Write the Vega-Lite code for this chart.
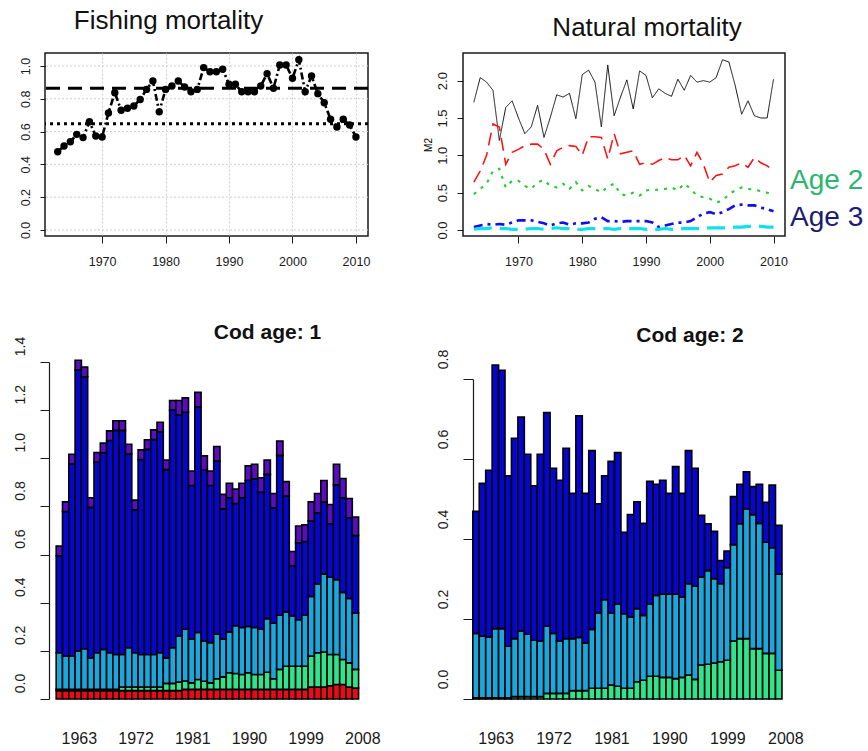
{
  "$schema": "https://vega.github.io/schema/vega-lite/v6.json",
  "background": "white",
  "padding": {"left": 13, "top": 7, "right": 0, "bottom": 0},
  "bounds": "flush",
  "spacing": 309,
  "resolve": {"scale": {"color": "independent", "x": "independent", "y": "independent"}},
  "config": {
    "view": {"stroke": null},
    "font": "Liberation Sans",
    "axis": {"labelFont": "Liberation Sans", "titleFont": "Liberation Sans", "labelColor": "#1a1a1a", "domainColor": "#1a1a1a", "tickColor": "#1a1a1a", "labelOverlap": false, "labelFlush": false, "grid": false},
    "title": {"font": "Liberation Sans", "color": "#111111"}
  },
  "datasets": {
    "fmort": [
      {"year":1963,"F":0.477},{"year":1964,"F":0.512},{"year":1965,"F":0.538},{"year":1966,"F":0.583},{"year":1967,"F":0.563},{"year":1968,"F":0.66},{"year":1969,"F":0.573},{"year":1970,"F":0.567},{"year":1971,"F":0.713},{"year":1972,"F":0.837},{"year":1973,"F":0.73},{"year":1974,"F":0.742},{"year":1975,"F":0.756},{"year":1976,"F":0.795},{"year":1977,"F":0.857},{"year":1978,"F":0.908},{"year":1979,"F":0.72},{"year":1980,"F":0.857},{"year":1981,"F":0.878},{"year":1982,"F":0.908},{"year":1983,"F":0.872},{"year":1984,"F":0.843},{"year":1985,"F":0.857},{"year":1986,"F":0.99},{"year":1987,"F":0.965},{"year":1988,"F":0.965},{"year":1989,"F":0.98},{"year":1990,"F":0.888},{"year":1991,"F":0.888},{"year":1992,"F":0.843},{"year":1993,"F":0.843},{"year":1994,"F":0.843},{"year":1995,"F":0.878},{"year":1996,"F":0.953},{"year":1997,"F":0.864},{"year":1998,"F":1.006},{"year":1999,"F":1.006},{"year":2000,"F":0.925},{"year":2001,"F":1.038},{"year":2002,"F":0.843},{"year":2003,"F":0.939},{"year":2004,"F":0.831},{"year":2005,"F":0.776},{"year":2006,"F":0.675},{"year":2007,"F":0.628},{"year":2008,"F":0.675},{"year":2009,"F":0.64},{"year":2010,"F":0.567}
    ],
    "nm": [
      {"year":1963,"Age 0":1.71,"Age 1":0.64,"Age 2":0.48,"Age 3":0.04,"Age 4":0.01},
      {"year":1964,"Age 0":2.04,"Age 1":0.79,"Age 2":0.55,"Age 3":0.06,"Age 4":0.02},
      {"year":1965,"Age 0":1.98,"Age 1":1.0,"Age 2":0.62,"Age 3":0.08,"Age 4":0.02},
      {"year":1966,"Age 0":1.87,"Age 1":1.42,"Age 2":0.79,"Age 3":0.07,"Age 4":0.03},
      {"year":1967,"Age 0":1.2,"Age 1":1.38,"Age 2":0.82,"Age 3":0.08,"Age 4":0.02},
      {"year":1968,"Age 0":1.64,"Age 1":0.88,"Age 2":0.57,"Age 3":0.07,"Age 4":0.02},
      {"year":1969,"Age 0":1.73,"Age 1":1.04,"Age 2":0.66,"Age 3":0.1,"Age 4":0.01},
      {"year":1970,"Age 0":1.5,"Age 1":1.08,"Age 2":0.66,"Age 3":0.13,"Age 4":0.01},
      {"year":1971,"Age 0":1.29,"Age 1":1.13,"Age 2":0.59,"Age 3":0.13,"Age 4":0.01},
      {"year":1972,"Age 0":1.38,"Age 1":1.15,"Age 2":0.55,"Age 3":0.13,"Age 4":0.02},
      {"year":1973,"Age 0":1.67,"Age 1":1.15,"Age 2":0.64,"Age 3":0.11,"Age 4":0.02},
      {"year":1974,"Age 0":1.24,"Age 1":1.08,"Age 2":0.67,"Age 3":0.09,"Age 4":0.01},
      {"year":1975,"Age 0":1.51,"Age 1":0.88,"Age 2":0.59,"Age 3":0.06,"Age 4":0.02},
      {"year":1976,"Age 0":1.81,"Age 1":1.06,"Age 2":0.57,"Age 3":0.09,"Age 4":0.03},
      {"year":1977,"Age 0":1.78,"Age 1":1.11,"Age 2":0.62,"Age 3":0.1,"Age 4":0.02},
      {"year":1978,"Age 0":1.83,"Age 1":1.13,"Age 2":0.55,"Age 3":0.07,"Age 4":0.02},
      {"year":1979,"Age 0":1.49,"Age 1":1.12,"Age 2":0.64,"Age 3":0.09,"Age 4":0.01},
      {"year":1980,"Age 0":2.08,"Age 1":1.0,"Age 2":0.53,"Age 3":0.09,"Age 4":0.01},
      {"year":1981,"Age 0":2.14,"Age 1":1.25,"Age 2":0.59,"Age 3":0.1,"Age 4":0.02},
      {"year":1982,"Age 0":1.98,"Age 1":1.25,"Age 2":0.55,"Age 3":0.15,"Age 4":0.02},
      {"year":1983,"Age 0":1.38,"Age 1":1.24,"Age 2":0.5,"Age 3":0.17,"Age 4":0.02},
      {"year":1984,"Age 0":2.21,"Age 1":0.95,"Age 2":0.58,"Age 3":0.12,"Age 4":0.02},
      {"year":1985,"Age 0":1.53,"Age 1":1.29,"Age 2":0.62,"Age 3":0.12,"Age 4":0.01},
      {"year":1986,"Age 0":1.78,"Age 1":1.02,"Age 2":0.48,"Age 3":0.11,"Age 4":0.02},
      {"year":1987,"Age 0":2.01,"Age 1":1.04,"Age 2":0.46,"Age 3":0.12,"Age 4":0.02},
      {"year":1988,"Age 0":1.62,"Age 1":1.06,"Age 2":0.5,"Age 3":0.12,"Age 4":0.02},
      {"year":1989,"Age 0":2.13,"Age 1":0.88,"Age 2":0.46,"Age 3":0.12,"Age 4":0.02},
      {"year":1990,"Age 0":2.07,"Age 1":0.9,"Age 2":0.53,"Age 3":0.12,"Age 4":0.01},
      {"year":1991,"Age 0":1.77,"Age 1":0.88,"Age 2":0.54,"Age 3":0.1,"Age 4":0.01},
      {"year":1992,"Age 0":1.89,"Age 1":0.93,"Age 2":0.54,"Age 3":0.04,"Age 4":0.01},
      {"year":1993,"Age 0":1.83,"Age 1":0.97,"Age 2":0.55,"Age 3":0.06,"Age 4":0.02},
      {"year":1994,"Age 0":1.79,"Age 1":0.94,"Age 2":0.57,"Age 3":0.08,"Age 4":0.01},
      {"year":1995,"Age 0":2.02,"Age 1":0.94,"Age 2":0.53,"Age 3":0.1,"Age 4":0.01},
      {"year":1996,"Age 0":1.87,"Age 1":1.0,"Age 2":0.62,"Age 3":0.1,"Age 4":0.02},
      {"year":1997,"Age 0":2.07,"Age 1":0.86,"Age 2":0.55,"Age 3":0.12,"Age 4":0.02},
      {"year":1998,"Age 0":1.98,"Age 1":1.04,"Age 2":0.46,"Age 3":0.17,"Age 4":0.02},
      {"year":1999,"Age 0":2.0,"Age 1":0.88,"Age 2":0.44,"Age 3":0.22,"Age 4":0.02},
      {"year":2000,"Age 0":1.98,"Age 1":0.64,"Age 2":0.42,"Age 3":0.24,"Age 4":0.03},
      {"year":2001,"Age 0":2.04,"Age 1":0.73,"Age 2":0.37,"Age 3":0.21,"Age 4":0.03},
      {"year":2002,"Age 0":2.28,"Age 1":0.75,"Age 2":0.39,"Age 3":0.24,"Age 4":0.03},
      {"year":2003,"Age 0":2.25,"Age 1":0.84,"Age 2":0.48,"Age 3":0.28,"Age 4":0.03},
      {"year":2004,"Age 0":1.93,"Age 1":0.86,"Age 2":0.53,"Age 3":0.33,"Age 4":0.04},
      {"year":2005,"Age 0":1.55,"Age 1":0.9,"Age 2":0.57,"Age 3":0.34,"Age 4":0.04},
      {"year":2006,"Age 0":1.73,"Age 1":0.84,"Age 2":0.55,"Age 3":0.33,"Age 4":0.05},
      {"year":2007,"Age 0":1.53,"Age 1":0.97,"Age 2":0.54,"Age 3":0.33,"Age 4":0.05},
      {"year":2008,"Age 0":1.5,"Age 1":0.9,"Age 2":0.52,"Age 3":0.3,"Age 4":0.05},
      {"year":2009,"Age 0":1.5,"Age 1":0.86,"Age 2":0.5,"Age 3":0.28,"Age 4":0.04},
      {"year":2010,"Age 0":2.02,"Age 1":0.79,"Age 2":0.48,"Age 3":0.25,"Age 4":0.04}
    ],
    "age1": [
      {"year":1963,"Predator 1":0.035,"Predator 2":0.005,"Predator 3":0.152,"Predator 4":0.403,"Predator 5":0.04},
      {"year":1964,"Predator 1":0.035,"Predator 2":0.005,"Predator 3":0.138,"Predator 4":0.601,"Predator 5":0.04},
      {"year":1965,"Predator 1":0.035,"Predator 2":0.005,"Predator 3":0.138,"Predator 4":0.799,"Predator 5":0.04},
      {"year":1966,"Predator 1":0.035,"Predator 2":0.005,"Predator 3":0.159,"Predator 4":1.168,"Predator 5":0.04},
      {"year":1967,"Predator 1":0.035,"Predator 2":0.005,"Predator 3":0.169,"Predator 4":1.13,"Predator 5":0.04},
      {"year":1968,"Predator 1":0.035,"Predator 2":0.005,"Predator 3":0.131,"Predator 4":0.625,"Predator 5":0.04},
      {"year":1969,"Predator 1":0.035,"Predator 2":0.005,"Predator 3":0.152,"Predator 4":0.792,"Predator 5":0.04},
      {"year":1970,"Predator 1":0.035,"Predator 2":0.005,"Predator 3":0.166,"Predator 4":0.817,"Predator 5":0.04},
      {"year":1971,"Predator 1":0.035,"Predator 2":0.005,"Predator 3":0.152,"Predator 4":0.882,"Predator 5":0.04},
      {"year":1972,"Predator 1":0.035,"Predator 2":0.005,"Predator 3":0.145,"Predator 4":0.931,"Predator 5":0.04},
      {"year":1973,"Predator 1":0.035,"Predator 2":0.015,"Predator 3":0.135,"Predator 4":0.931,"Predator 5":0.04},
      {"year":1974,"Predator 1":0.035,"Predator 2":0.015,"Predator 3":0.163,"Predator 4":0.805,"Predator 5":0.04},
      {"year":1975,"Predator 1":0.035,"Predator 2":0.015,"Predator 3":0.142,"Predator 4":0.594,"Predator 5":0.04},
      {"year":1976,"Predator 1":0.035,"Predator 2":0.015,"Predator 3":0.135,"Predator 4":0.81,"Predator 5":0.04},
      {"year":1977,"Predator 1":0.035,"Predator 2":0.015,"Predator 3":0.135,"Predator 4":0.852,"Predator 5":0.04},
      {"year":1978,"Predator 1":0.035,"Predator 2":0.015,"Predator 3":0.135,"Predator 4":0.893,"Predator 5":0.04},
      {"year":1979,"Predator 1":0.035,"Predator 2":0.015,"Predator 3":0.142,"Predator 4":0.918,"Predator 5":0.04},
      {"year":1980,"Predator 1":0.035,"Predator 2":0.03,"Predator 3":0.106,"Predator 4":0.782,"Predator 5":0.04},
      {"year":1981,"Predator 1":0.035,"Predator 2":0.03,"Predator 3":0.148,"Predator 4":0.987,"Predator 5":0.04},
      {"year":1982,"Predator 1":0.035,"Predator 2":0.035,"Predator 3":0.192,"Predator 4":0.918,"Predator 5":0.06},
      {"year":1983,"Predator 1":0.04,"Predator 2":0.035,"Predator 3":0.215,"Predator 4":0.901,"Predator 5":0.06},
      {"year":1984,"Predator 1":0.04,"Predator 2":0.027,"Predator 3":0.181,"Predator 4":0.639,"Predator 5":0.06},
      {"year":1985,"Predator 1":0.04,"Predator 2":0.041,"Predator 3":0.195,"Predator 4":0.938,"Predator 5":0.06},
      {"year":1986,"Predator 1":0.04,"Predator 2":0.034,"Predator 3":0.167,"Predator 4":0.709,"Predator 5":0.06},
      {"year":1987,"Predator 1":0.04,"Predator 2":0.027,"Predator 3":0.167,"Predator 4":0.653,"Predator 5":0.06},
      {"year":1988,"Predator 1":0.04,"Predator 2":0.044,"Predator 3":0.185,"Predator 4":0.72,"Predator 5":0.06},
      {"year":1989,"Predator 1":0.04,"Predator 2":0.052,"Predator 3":0.156,"Predator 4":0.542,"Predator 5":0.06},
      {"year":1990,"Predator 1":0.04,"Predator 2":0.069,"Predator 3":0.17,"Predator 4":0.557,"Predator 5":0.06},
      {"year":1991,"Predator 1":0.04,"Predator 2":0.066,"Predator 3":0.198,"Predator 4":0.508,"Predator 5":0.06},
      {"year":1992,"Predator 1":0.04,"Predator 2":0.062,"Predator 3":0.195,"Predator 4":0.539,"Predator 5":0.06},
      {"year":1993,"Predator 1":0.04,"Predator 2":0.069,"Predator 3":0.192,"Predator 4":0.608,"Predator 5":0.06},
      {"year":1994,"Predator 1":0.04,"Predator 2":0.062,"Predator 3":0.195,"Predator 4":0.618,"Predator 5":0.06},
      {"year":1995,"Predator 1":0.04,"Predator 2":0.062,"Predator 3":0.188,"Predator 4":0.569,"Predator 5":0.06},
      {"year":1996,"Predator 1":0.04,"Predator 2":0.071,"Predator 3":0.223,"Predator 4":0.599,"Predator 5":0.06},
      {"year":1997,"Predator 1":0.04,"Predator 2":0.044,"Predator 3":0.231,"Predator 4":0.479,"Predator 5":0.06},
      {"year":1998,"Predator 1":0.04,"Predator 2":0.083,"Predator 3":0.225,"Predator 4":0.664,"Predator 5":0.06},
      {"year":1999,"Predator 1":0.04,"Predator 2":0.096,"Predator 3":0.226,"Predator 4":0.481,"Predator 5":0.06},
      {"year":2000,"Predator 1":0.04,"Predator 2":0.096,"Predator 3":0.209,"Predator 4":0.208,"Predator 5":0.06},
      {"year":2001,"Predator 1":0.04,"Predator 2":0.096,"Predator 3":0.193,"Predator 4":0.32,"Predator 5":0.07},
      {"year":2002,"Predator 1":0.04,"Predator 2":0.096,"Predator 3":0.212,"Predator 4":0.306,"Predator 5":0.07},
      {"year":2003,"Predator 1":0.05,"Predator 2":0.128,"Predator 3":0.248,"Predator 4":0.313,"Predator 5":0.08},
      {"year":2004,"Predator 1":0.05,"Predator 2":0.142,"Predator 3":0.286,"Predator 4":0.296,"Predator 5":0.08},
      {"year":2005,"Predator 1":0.05,"Predator 2":0.145,"Predator 3":0.325,"Predator 4":0.298,"Predator 5":0.09},
      {"year":2006,"Predator 1":0.055,"Predator 2":0.13,"Predator 3":0.321,"Predator 4":0.222,"Predator 5":0.08},
      {"year":2007,"Predator 1":0.06,"Predator 2":0.125,"Predator 3":0.311,"Predator 4":0.394,"Predator 5":0.085},
      {"year":2008,"Predator 1":0.06,"Predator 2":0.104,"Predator 3":0.279,"Predator 4":0.393,"Predator 5":0.08},
      {"year":2009,"Predator 1":0.05,"Predator 2":0.1,"Predator 3":0.268,"Predator 4":0.335,"Predator 5":0.08},
      {"year":2010,"Predator 1":0.045,"Predator 2":0.078,"Predator 3":0.234,"Predator 4":0.322,"Predator 5":0.077}
    ],
    "age2": [
      {"year":1963,"Predator 2":0.003,"Predator 3":0.161,"Predator 4":0.305},
      {"year":1964,"Predator 2":0.003,"Predator 3":0.154,"Predator 4":0.382},
      {"year":1965,"Predator 2":0.003,"Predator 3":0.152,"Predator 4":0.417},
      {"year":1966,"Predator 2":0.003,"Predator 3":0.173,"Predator 4":0.659},
      {"year":1967,"Predator 2":0.003,"Predator 3":0.173,"Predator 4":0.646},
      {"year":1968,"Predator 2":0.003,"Predator 3":0.129,"Predator 4":0.426},
      {"year":1969,"Predator 2":0.006,"Predator 3":0.145,"Predator 4":0.501},
      {"year":1970,"Predator 2":0.006,"Predator 3":0.164,"Predator 4":0.535},
      {"year":1971,"Predator 2":0.006,"Predator 3":0.156,"Predator 4":0.45},
      {"year":1972,"Predator 2":0.006,"Predator 3":0.141,"Predator 4":0.386},
      {"year":1973,"Predator 2":0.006,"Predator 3":0.139,"Predator 4":0.467},
      {"year":1974,"Predator 2":0.014,"Predator 3":0.168,"Predator 4":0.534},
      {"year":1975,"Predator 2":0.014,"Predator 3":0.15,"Predator 4":0.413},
      {"year":1976,"Predator 2":0.014,"Predator 3":0.131,"Predator 4":0.402},
      {"year":1977,"Predator 2":0.014,"Predator 3":0.137,"Predator 4":0.476},
      {"year":1978,"Predator 2":0.021,"Predator 3":0.13,"Predator 4":0.363},
      {"year":1979,"Predator 2":0.021,"Predator 3":0.133,"Predator 4":0.554},
      {"year":1980,"Predator 2":0.021,"Predator 3":0.119,"Predator 4":0.374},
      {"year":1981,"Predator 2":0.027,"Predator 3":0.147,"Predator 4":0.447},
      {"year":1982,"Predator 2":0.027,"Predator 3":0.188,"Predator 4":0.273},
      {"year":1983,"Predator 2":0.027,"Predator 3":0.221,"Predator 4":0.31},
      {"year":1984,"Predator 2":0.035,"Predator 3":0.18,"Predator 4":0.379},
      {"year":1985,"Predator 2":0.032,"Predator 3":0.205,"Predator 4":0.379},
      {"year":1986,"Predator 2":0.027,"Predator 3":0.186,"Predator 4":0.204},
      {"year":1987,"Predator 2":0.027,"Predator 3":0.178,"Predator 4":0.256},
      {"year":1988,"Predator 2":0.043,"Predator 3":0.183,"Predator 4":0.267},
      {"year":1989,"Predator 2":0.047,"Predator 3":0.162,"Predator 4":0.23},
      {"year":1990,"Predator 2":0.057,"Predator 3":0.18,"Predator 4":0.307},
      {"year":1991,"Predator 2":0.057,"Predator 3":0.202,"Predator 4":0.278},
      {"year":1992,"Predator 2":0.054,"Predator 3":0.208,"Predator 4":0.285},
      {"year":1993,"Predator 2":0.054,"Predator 3":0.208,"Predator 4":0.252},
      {"year":1994,"Predator 2":0.051,"Predator 3":0.211,"Predator 4":0.319},
      {"year":1995,"Predator 2":0.054,"Predator 3":0.201,"Predator 4":0.259},
      {"year":1996,"Predator 2":0.06,"Predator 3":0.228,"Predator 4":0.333},
      {"year":1997,"Predator 2":0.049,"Predator 3":0.233,"Predator 4":0.295},
      {"year":1998,"Predator 2":0.085,"Predator 3":0.22,"Predator 4":0.154},
      {"year":1999,"Predator 2":0.087,"Predator 3":0.234,"Predator 4":0.117},
      {"year":2000,"Predator 2":0.09,"Predator 3":0.211,"Predator 4":0.118},
      {"year":2001,"Predator 2":0.093,"Predator 3":0.195,"Predator 4":0.058},
      {"year":2002,"Predator 2":0.097,"Predator 3":0.231,"Predator 4":0.042},
      {"year":2003,"Predator 2":0.145,"Predator 3":0.241,"Predator 4":0.12},
      {"year":2004,"Predator 2":0.151,"Predator 3":0.287,"Predator 4":0.099},
      {"year":2005,"Predator 2":0.151,"Predator 3":0.324,"Predator 4":0.093},
      {"year":2006,"Predator 2":0.126,"Predator 3":0.335,"Predator 4":0.07},
      {"year":2007,"Predator 2":0.126,"Predator 3":0.313,"Predator 4":0.098},
      {"year":2008,"Predator 2":0.114,"Predator 3":0.278,"Predator 4":0.1},
      {"year":2009,"Predator 2":0.114,"Predator 3":0.264,"Predator 4":0.157},
      {"year":2010,"Predator 2":0.072,"Predator 3":0.24,"Predator 4":0.122}
    ]
  },
  "vconcat": [
    {
      "bounds": "flush",
      "spacing": 95,
      "resolve": {"scale": {"color": "independent", "x": "independent", "y": "independent"}},
      "hconcat": [
        {
          "width": 323,
          "height": 183,
          "view": {"stroke": "#1a1a1a", "strokeWidth": 1.5},
          "title": {"text": "Fishing mortality", "fontSize": 26, "fontWeight": "normal", "offset": 19, "dx": -38, "anchor": "middle"},
          "encoding": {
            "y": {"field": "F", "type": "quantitative", "scale": {"domain": [-0.037, 1.079], "nice": false, "zero": false},
              "axis": {"values": [0, 0.2, 0.4, 0.6, 0.8, 1.0], "format": ".1f", "title": null, "domain": false, "grid": false, "tickSize": 5, "labelPadding": 8, "labelFontSize": 12.5, "labelAngle": -90, "labelAlign": "center", "labelBaseline": "bottom", "labelOverlap": false}}
          },
          "layer": [
            {
              "data": {"values": [{"F": 0.0}, {"F": 0.2}, {"F": 0.4}, {"F": 0.6}, {"F": 0.8}, {"F": 1.0}]},
              "mark": {"type": "rule", "color": "#cfcfcf", "strokeWidth": 1, "strokeDash": [2, 2]}
            },
            {
              "data": {"name": "fmort"},
              "mark": {"type": "line", "color": "black", "strokeWidth": 2.6, "strokeDash": [7, 3, 2, 3]},
              "encoding": {
                "x": {"field": "year", "type": "quantitative", "scale": {"domain": [1961.0, 2011.9], "nice": false, "zero": false},
                  "axis": {"values": [1970, 1980, 1990, 2000, 2010], "format": "d", "title": null, "domain": false, "tickSize": 7, "labelPadding": 12, "labelFontSize": 12.5, "grid": true, "gridColor": "#cfcfcf", "gridDash": [2, 2]}}
              }
            },
            {
              "data": {"name": "fmort"},
              "mark": {"type": "point", "filled": true, "color": "black", "size": 55, "opacity": 1},
              "encoding": {
                "x": {"field": "year", "type": "quantitative"}
              }
            },
            {
              "data": {"values": [{"F": 0.864}]},
              "mark": {"type": "rule", "color": "black", "strokeWidth": 3, "strokeDash": [14, 8]}
            },
            {
              "data": {"values": [{"F": 0.648}]},
              "mark": {"type": "rule", "color": "black", "strokeWidth": 3, "strokeDash": [3, 4]}
            }
          ]
        },
        {
          "width": 322,
          "height": 183,
          "view": {"stroke": "#1a1a1a", "strokeWidth": 1.5},
          "title": {"text": "Natural mortality", "fontSize": 26, "fontWeight": "normal", "offset": 12, "dx": 23, "anchor": "middle"},
          "layer": [
            {
              "data": {"name": "nm"},
              "transform": [{"fold": ["Age 0", "Age 1", "Age 2", "Age 3", "Age 4"], "as": ["age", "m2"]}],
              "mark": {"type": "line"},
              "encoding": {
                "x": {"field": "year", "type": "quantitative", "scale": {"domain": [1961.3, 2011.8], "nice": false, "zero": false},
                  "axis": {"values": [1970, 1980, 1990, 2000, 2010], "format": "d", "title": null, "domain": false, "grid": false, "tickSize": 7, "labelPadding": 12, "labelFontSize": 12.5}},
                "y": {"field": "m2", "type": "quantitative", "scale": {"domain": [-0.08, 2.37], "nice": false, "zero": false},
                  "axis": {"values": [0, 0.5, 1.0, 1.5, 2.0], "format": ".1f", "title": "M2", "titleFontSize": 10, "titleFontWeight": "normal", "titlePadding": 3, "domain": false, "grid": false, "tickSize": 6, "labelPadding": 8, "labelFontSize": 13, "labelAngle": -90, "labelAlign": "center", "labelBaseline": "bottom", "labelOverlap": false}},
                "color": {"field": "age", "type": "nominal", "scale": {"domain": ["Age 0", "Age 1", "Age 2", "Age 3", "Age 4"], "range": ["#111111", "#ff1010", "#22cc33", "#1010e8", "#10e0ee"]}, "legend": null},
                "strokeDash": {"field": "age", "type": "nominal", "scale": {"domain": ["Age 0", "Age 1", "Age 2", "Age 3", "Age 4"], "range": [[1, 0], [13, 7], [3, 6], [9, 5, 3, 5], [18, 8]]}, "legend": null},
                "strokeWidth": {"field": "age", "type": "ordinal", "scale": {"domain": ["Age 0", "Age 1", "Age 2", "Age 3", "Age 4"], "range": [1, 3.2, 3.2, 3, 3.5]}, "legend": null}
              }
            },
            {
              "data": {"values": [{}]},
              "mark": {"type": "text", "fontSize": 28, "align": "left", "baseline": "middle", "color": "#2bb56e"},
              "encoding": {"x": {"datum": 2012.6}, "y": {"datum": 0.66}, "text": {"value": "Age 2"}}
            },
            {
              "data": {"values": [{}]},
              "mark": {"type": "text", "fontSize": 28, "align": "left", "baseline": "middle", "color": "#1c1c70"},
              "encoding": {"x": {"datum": 2012.6}, "y": {"datum": 0.165}, "text": {"value": "Age 3"}}
            }
          ]
        }
      ]
    },
    {
      "bounds": "flush",
      "spacing": 103,
      "resolve": {"scale": {"color": "independent", "x": "independent", "y": "independent"}},
      "hconcat": [
        {
          "width": 315,
          "height": 337,
          "title": {"text": "Cod age: 1", "fontSize": 21, "fontWeight": "bold", "offset": -7, "dx": 65, "anchor": "middle"},
          "data": {"name": "age1"},
          "transform": [{"fold": ["Predator 1", "Predator 2", "Predator 3", "Predator 4", "Predator 5"], "as": ["predator", "m2"]}],
          "mark": {"type": "bar", "stroke": "black", "strokeWidth": 1.6},
          "encoding": {
            "x": {"field": "year", "type": "ordinal", "scale": {"paddingInner": 0, "paddingOuter": 1.36, "align": 0.888},
              "axis": {"values": [1963, 1972, 1981, 1990, 1999, 2008], "title": null, "domain": false, "ticks": false, "grid": false, "labelAngle": 0, "labelPadding": 31, "labelFontSize": 16, "labelOffset": 20}},
            "y": {"field": "m2", "type": "quantitative", "stack": "zero", "scale": {"domain": [0, 1.4], "nice": false},
              "axis": {"values": [0, 0.2, 0.4, 0.6, 0.8, 1.0, 1.2, 1.4], "format": ".1f", "title": null, "offset": -4, "grid": false, "tickSize": 9, "labelPadding": 13, "labelFontSize": 14, "labelAngle": -90, "labelAlign": "center", "labelBaseline": "bottom", "labelOffset": -16, "labelOverlap": false, "domainWidth": 1.2}},
            "color": {"field": "predator", "type": "nominal", "scale": {"domain": ["Predator 1", "Predator 2", "Predator 3", "Predator 4", "Predator 5"], "range": ["#ee0a14", "#2ee58c", "#1aa8dc", "#0606d0", "#5a0cc0"]}, "legend": null},
            "order": {"field": "predator", "sort": "ascending"}
          }
        },
        {
          "width": 322,
          "height": 337,
          "title": {"text": "Cod age: 2", "fontSize": 21, "fontWeight": "bold", "offset": 3, "dx": 66, "anchor": "middle"},
          "data": {"name": "age2"},
          "transform": [{"fold": ["Predator 2", "Predator 3", "Predator 4"], "as": ["predator", "m2"]}],
          "mark": {"type": "bar", "stroke": "black", "strokeWidth": 1.6},
          "encoding": {
            "x": {"field": "year", "type": "ordinal", "scale": {"paddingInner": 0, "paddingOuter": 2.48, "align": 0.762},
              "axis": {"values": [1963, 1972, 1981, 1990, 1999, 2008], "title": null, "domain": false, "ticks": false, "grid": false, "labelAngle": 0, "labelPadding": 31, "labelFontSize": 16, "labelOffset": 20}},
            "y": {"field": "m2", "type": "quantitative", "stack": "zero", "scale": {"domain": [0, 0.8], "nice": false, "range": [337, 17]},
              "axis": {"values": [0, 0.2, 0.4, 0.6, 0.8], "format": ".1f", "title": null, "offset": -10, "grid": false, "tickSize": 10, "labelPadding": 13, "labelFontSize": 14, "labelAngle": -90, "labelAlign": "center", "labelBaseline": "bottom", "labelOffset": -20, "labelOverlap": false, "domainWidth": 1.2}},
            "color": {"field": "predator", "type": "nominal", "scale": {"domain": ["Predator 1", "Predator 2", "Predator 3", "Predator 4", "Predator 5"], "range": ["#ee0a14", "#2ee58c", "#1aa8dc", "#0606d0", "#5a0cc0"]}, "legend": null},
            "order": {"field": "predator", "sort": "ascending"}
          }
        }
      ]
    }
  ]
}
